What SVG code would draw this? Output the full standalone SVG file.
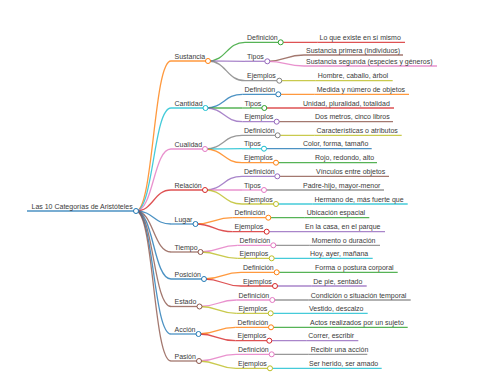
<svg xmlns="http://www.w3.org/2000/svg" width="480" height="384" viewBox="0 0 480 384">
<style>
.t{font-family:"Liberation Sans",Arial,sans-serif;font-size:7px;fill:#3a3a3a}
.l{fill:none;stroke-width:1.3;stroke-opacity:0.8}
.k{fill:#fff;stroke-width:1}
.c0{stroke:#1f77b4}.c1{stroke:#ff7f0e}.c2{stroke:#2ca02c}.c3{stroke:#d62728}.c4{stroke:#9467bd}
.c5{stroke:#8c564b}.c6{stroke:#e377c2}.c7{stroke:#7f7f7f}.c8{stroke:#bcbd22}.c9{stroke:#17becf}
</style>
<rect width="480" height="384" fill="#fff"/>
<g id="connectors">
<path class="l c1" d="M136 211C153.5 211 153.5 61 171 61"/>
<path class="l c9" d="M136 211C153.5 211 153.5 108 171 108"/>
<path class="l c6" d="M136 211C153.5 211 153.5 149 171 149"/>
<path class="l c3" d="M136 211C153.5 211 153.5 190 171 190"/>
<path class="l c0" d="M136 211C153.5 211 153.5 224 171 224"/>
<path class="l c5" d="M136 211C153.5 211 153.5 252 171 252"/>
<path class="l c0" d="M136 211C153.5 211 153.5 279 171 279"/>
<path class="l c5" d="M136 211C153.5 211 153.5 306.5 171 306.5"/>
<path class="l c0" d="M136 211C153.5 211 153.5 334 171 334"/>
<path class="l c5" d="M136 211C153.5 211 153.5 361 171 361"/>
<path class="l c2" d="M208 61C226.5 61 226.5 42.3 245 42.3"/>
<path class="l c4" d="M208 61C226.5 61 226.5 61.3 245 61.3"/>
<path class="l c7" d="M208 61C226.5 61 226.5 80.7 245 80.7"/>
<path class="l c0" d="M205.5 108C224 108 224 94.3 242.5 94.3"/>
<path class="l c2" d="M205.5 108C224 108 224 108 242.5 108"/>
<path class="l c4" d="M205.5 108C224 108 224 121.7 242.5 121.7"/>
<path class="l c7" d="M205 149C223.5 149 223.5 135.3 242 135.3"/>
<path class="l c9" d="M205 149C223.5 149 223.5 148.7 242 148.7"/>
<path class="l c1" d="M205 149C223.5 149 223.5 162.7 242 162.7"/>
<path class="l c4" d="M205 190C223.5 190 223.5 176.3 242 176.3"/>
<path class="l c6" d="M205 190C223.5 190 223.5 190 242 190"/>
<path class="l c8" d="M205 190C223.5 190 223.5 204 242 204"/>
<path class="l c1" d="M195.5 224C214 224 214 217.7 232.5 217.7"/>
<path class="l c3" d="M195.5 224C214 224 214 231.7 232.5 231.7"/>
<path class="l c6" d="M200.5 252C219 252 219 245.3 237.5 245.3"/>
<path class="l c8" d="M200.5 252C219 252 219 258.3 237.5 258.3"/>
<path class="l c1" d="M204 279C222.5 279 222.5 272.3 241 272.3"/>
<path class="l c3" d="M204 279C222.5 279 222.5 286 241 286"/>
<path class="l c6" d="M199.5 306.5C218 306.5 218 300 236.5 300"/>
<path class="l c8" d="M199.5 306.5C218 306.5 218 313.3 236.5 313.3"/>
<path class="l c1" d="M198.5 334C217 334 217 327.3 235.5 327.3"/>
<path class="l c3" d="M198.5 334C217 334 217 340.7 235.5 340.7"/>
<path class="l c6" d="M199 361C217.5 361 217.5 354.3 236 354.3"/>
<path class="l c8" d="M199 361C217.5 361 217.5 368.3 236 368.3"/>
<path class="l c3" d="M280.7 42.3H317.5"/>
<path class="l c5" d="M267.3 61.3C285.6 61.3 285.6 55 304 55"/>
<path class="l c6" d="M267.3 61.3C285.6 61.3 285.6 66 304 66"/>
<path class="l c8" d="M279.3 80.7H315.7"/>
<path class="l c1" d="M278.3 94.3H314.7"/>
<path class="l c3" d="M264.3 108H301"/>
<path class="l c5" d="M276.7 121.7H313"/>
<path class="l c8" d="M277.7 135.3H314.5"/>
<path class="l c0" d="M264 148.7H301"/>
<path class="l c2" d="M276 162.7H313"/>
<path class="l c5" d="M277.3 176.3H314"/>
<path class="l c7" d="M264 190H301"/>
<path class="l c9" d="M276 204H312.5"/>
<path class="l c2" d="M268.3 217.7H304.8"/>
<path class="l c4" d="M266.7 231.7H303"/>
<path class="l c7" d="M273.3 245.3H309.7"/>
<path class="l c9" d="M271.7 258.3H308"/>
<path class="l c2" d="M276.7 272.3H313"/>
<path class="l c4" d="M275 286H311.3"/>
<path class="l c7" d="M272.3 300H308.7"/>
<path class="l c9" d="M270.7 313.3H307"/>
<path class="l c2" d="M271 327.3H308"/>
<path class="l c4" d="M269.3 340.7H306.3"/>
<path class="l c7" d="M271.7 354.3H308.7"/>
<path class="l c9" d="M270 368.3H307"/>
</g>
<g id="root"><path class="l c0" d="M27 211H136"/><circle class="k c0" cx="136" cy="211" r="2.5"/><text class="t" x="31.5" y="208.5">Las 10 Categorías de Aristóteles</text></g>
<g id="sustancia"><path class="l c1" d="M171 61H208"/><circle class="k c1" cx="208" cy="61" r="2.5"/><text class="t" x="174.5" y="58.5">Sustancia</text></g>
<g id="sustancia-def"><path class="l c2" d="M245 42.3H280.7"/><circle class="k c2" cx="280.7" cy="42.3" r="2.5"/><text class="t" x="247" y="39.8">Definición</text></g>
<g id="sustancia-def-v"><path class="l c3" d="M317.5 42.3H405"/><text class="t" x="319.5" y="39.8">Lo que existe en sí mismo</text></g>
<g id="sustancia-tipos"><path class="l c4" d="M245 61.3H267.3"/><circle class="k c4" cx="267.3" cy="61.3" r="2.5"/><text class="t" x="247" y="58.8">Tipos</text></g>
<g id="sustancia-tipos-v1"><path class="l c5" d="M304 55H403"/><text class="t" x="306" y="52.5">Sustancia primera (individuos)</text></g>
<g id="sustancia-tipos-v2"><path class="l c6" d="M304 66H437"/><text class="t" x="306" y="63.5">Sustancia segunda (especies y géneros)</text></g>
<g id="sustancia-ej"><path class="l c7" d="M245 80.7H279.3"/><circle class="k c7" cx="279.3" cy="80.7" r="2.5"/><text class="t" x="247" y="78.2">Ejemplos</text></g>
<g id="sustancia-ej-v"><path class="l c8" d="M315.7 80.7H392.7"/><text class="t" x="317.7" y="78.2">Hombre, caballo, árbol</text></g>
<g id="cantidad"><path class="l c9" d="M171 108H205.5"/><circle class="k c9" cx="205.5" cy="108" r="2.5"/><text class="t" x="174.5" y="105.5">Cantidad</text></g>
<g id="cantidad-def"><path class="l c0" d="M242.5 94.3H278.3"/><circle class="k c0" cx="278.3" cy="94.3" r="2.5"/><text class="t" x="244.5" y="91.8">Definición</text></g>
<g id="cantidad-def-v"><path class="l c1" d="M314.7 94.3H409"/><text class="t" x="316.7" y="91.8">Medida y número de objetos</text></g>
<g id="cantidad-tipos"><path class="l c2" d="M242.5 108H264.3"/><circle class="k c2" cx="264.3" cy="108" r="2.5"/><text class="t" x="244.5" y="105.5">Tipos</text></g>
<g id="cantidad-tipos-v"><path class="l c3" d="M301 108H394"/><text class="t" x="303" y="105.5">Unidad, pluralidad, totalidad</text></g>
<g id="cantidad-ej"><path class="l c4" d="M242.5 121.7H276.7"/><circle class="k c4" cx="276.7" cy="121.7" r="2.5"/><text class="t" x="244.5" y="119.2">Ejemplos</text></g>
<g id="cantidad-ej-v"><path class="l c5" d="M313 121.7H393"/><text class="t" x="315" y="119.2">Dos metros, cinco libros</text></g>
<g id="cualidad"><path class="l c6" d="M171 149H205"/><circle class="k c6" cx="205" cy="149" r="2.5"/><text class="t" x="174.5" y="146.5">Cualidad</text></g>
<g id="cualidad-def"><path class="l c7" d="M242 135.3H277.7"/><circle class="k c7" cx="277.7" cy="135.3" r="2.5"/><text class="t" x="244" y="132.8">Definición</text></g>
<g id="cualidad-def-v"><path class="l c8" d="M314.5 135.3H401.7"/><text class="t" x="316.5" y="132.8">Características o atributos</text></g>
<g id="cualidad-tipos"><path class="l c9" d="M242 148.7H264"/><circle class="k c9" cx="264" cy="148.7" r="2.5"/><text class="t" x="244" y="146.2">Tipos</text></g>
<g id="cualidad-tipos-v"><path class="l c0" d="M301 148.7H371.7"/><text class="t" x="303" y="146.2">Color, forma, tamaño</text></g>
<g id="cualidad-ej"><path class="l c1" d="M242 162.7H276"/><circle class="k c1" cx="276" cy="162.7" r="2.5"/><text class="t" x="244" y="160.2">Ejemplos</text></g>
<g id="cualidad-ej-v"><path class="l c2" d="M313 162.7H377"/><text class="t" x="315" y="160.2">Rojo, redondo, alto</text></g>
<g id="relacion"><path class="l c3" d="M171 190H205"/><circle class="k c3" cx="205" cy="190" r="2.5"/><text class="t" x="174.5" y="187.5">Relación</text></g>
<g id="relacion-def"><path class="l c4" d="M242 176.3H277.3"/><circle class="k c4" cx="277.3" cy="176.3" r="2.5"/><text class="t" x="244" y="173.8">Definición</text></g>
<g id="relacion-def-v"><path class="l c5" d="M314 176.3H389"/><text class="t" x="316" y="173.8">Vínculos entre objetos</text></g>
<g id="relacion-tipos"><path class="l c6" d="M242 190H264"/><circle class="k c6" cx="264" cy="190" r="2.5"/><text class="t" x="244" y="187.5">Tipos</text></g>
<g id="relacion-tipos-v"><path class="l c7" d="M301 190H384"/><text class="t" x="303" y="187.5">Padre-hijo, mayor-menor</text></g>
<g id="relacion-ej"><path class="l c8" d="M242 204H276"/><circle class="k c8" cx="276" cy="204" r="2.5"/><text class="t" x="244" y="201.5">Ejemplos</text></g>
<g id="relacion-ej-v"><path class="l c9" d="M312.5 204H407.7"/><text class="t" x="314.5" y="201.5">Hermano de, más fuerte que</text></g>
<g id="lugar"><path class="l c0" d="M171 224H195.5"/><circle class="k c0" cx="195.5" cy="224" r="2.5"/><text class="t" x="174.5" y="221.5">Lugar</text></g>
<g id="lugar-def"><path class="l c1" d="M232.5 217.7H268.3"/><circle class="k c1" cx="268.3" cy="217.7" r="2.5"/><text class="t" x="234.5" y="215.2">Definición</text></g>
<g id="lugar-def-v"><path class="l c2" d="M304.8 217.7H369.3"/><text class="t" x="306.8" y="215.2">Ubicación espacial</text></g>
<g id="lugar-ej"><path class="l c3" d="M232.5 231.7H266.7"/><circle class="k c3" cx="266.7" cy="231.7" r="2.5"/><text class="t" x="234.5" y="229.2">Ejemplos</text></g>
<g id="lugar-ej-v"><path class="l c4" d="M303 231.7H385"/><text class="t" x="305" y="229.2">En la casa, en el parque</text></g>
<g id="tiempo"><path class="l c5" d="M171 252H200.5"/><circle class="k c5" cx="200.5" cy="252" r="2.5"/><text class="t" x="174.5" y="249.5">Tiempo</text></g>
<g id="tiempo-def"><path class="l c6" d="M237.5 245.3H273.3"/><circle class="k c6" cx="273.3" cy="245.3" r="2.5"/><text class="t" x="239.5" y="242.8">Definición</text></g>
<g id="tiempo-def-v"><path class="l c7" d="M309.7 245.3H380"/><text class="t" x="311.7" y="242.8">Momento o duración</text></g>
<g id="tiempo-ej"><path class="l c8" d="M237.5 258.3H271.7"/><circle class="k c8" cx="271.7" cy="258.3" r="2.5"/><text class="t" x="239.5" y="255.8">Ejemplos</text></g>
<g id="tiempo-ej-v"><path class="l c9" d="M308 258.3H372.7"/><text class="t" x="310" y="255.8">Hoy, ayer, mañana</text></g>
<g id="posicion"><path class="l c0" d="M171 279H204"/><circle class="k c0" cx="204" cy="279" r="2.5"/><text class="t" x="174.5" y="276.5">Posición</text></g>
<g id="posicion-def"><path class="l c1" d="M241 272.3H276.7"/><circle class="k c1" cx="276.7" cy="272.3" r="2.5"/><text class="t" x="243" y="269.8">Definición</text></g>
<g id="posicion-def-v"><path class="l c2" d="M313 272.3H397.7"/><text class="t" x="315" y="269.8">Forma o postura corporal</text></g>
<g id="posicion-ej"><path class="l c3" d="M241 286H275"/><circle class="k c3" cx="275" cy="286" r="2.5"/><text class="t" x="243" y="283.5">Ejemplos</text></g>
<g id="posicion-ej-v"><path class="l c4" d="M311.3 286H366.7"/><text class="t" x="313.3" y="283.5">De pie, sentado</text></g>
<g id="estado"><path class="l c5" d="M171 306.5H199.5"/><circle class="k c5" cx="199.5" cy="306.5" r="2.5"/><text class="t" x="174.5" y="304">Estado</text></g>
<g id="estado-def"><path class="l c6" d="M236.5 300H272.3"/><circle class="k c6" cx="272.3" cy="300" r="2.5"/><text class="t" x="238.5" y="297.5">Definición</text></g>
<g id="estado-def-v"><path class="l c7" d="M308.7 300H410.7"/><text class="t" x="310.7" y="297.5">Condición o situación temporal</text></g>
<g id="estado-ej"><path class="l c8" d="M236.5 313.3H270.7"/><circle class="k c8" cx="270.7" cy="313.3" r="2.5"/><text class="t" x="238.5" y="310.8">Ejemplos</text></g>
<g id="estado-ej-v"><path class="l c9" d="M307 313.3H367.7"/><text class="t" x="309" y="310.8">Vestido, descalzo</text></g>
<g id="accion"><path class="l c0" d="M171 334H198.5"/><circle class="k c0" cx="198.5" cy="334" r="2.5"/><text class="t" x="174.5" y="331.5">Acción</text></g>
<g id="accion-def"><path class="l c1" d="M235.5 327.3H271"/><circle class="k c1" cx="271" cy="327.3" r="2.5"/><text class="t" x="237.5" y="324.8">Definición</text></g>
<g id="accion-def-v"><path class="l c2" d="M308 327.3H407.7"/><text class="t" x="310" y="324.8">Actos realizados por un sujeto</text></g>
<g id="accion-ej"><path class="l c3" d="M235.5 340.7H269.3"/><circle class="k c3" cx="269.3" cy="340.7" r="2.5"/><text class="t" x="237.5" y="338.2">Ejemplos</text></g>
<g id="accion-ej-v"><path class="l c4" d="M306.3 340.7H358.3"/><text class="t" x="308.3" y="338.2">Correr, escribir</text></g>
<g id="pasion"><path class="l c5" d="M171 361H199"/><circle class="k c5" cx="199" cy="361" r="2.5"/><text class="t" x="174.5" y="358.5">Pasión</text></g>
<g id="pasion-def"><path class="l c6" d="M236 354.3H271.7"/><circle class="k c6" cx="271.7" cy="354.3" r="2.5"/><text class="t" x="238" y="351.8">Definición</text></g>
<g id="pasion-def-v"><path class="l c7" d="M308.7 354.3H367.3"/><text class="t" x="310.7" y="351.8">Recibir una acción</text></g>
<g id="pasion-ej"><path class="l c8" d="M236 368.3H270"/><circle class="k c8" cx="270" cy="368.3" r="2.5"/><text class="t" x="238" y="365.8">Ejemplos</text></g>
<g id="pasion-ej-v"><path class="l c9" d="M307 368.3H381.7"/><text class="t" x="309" y="365.8">Ser herido, ser amado</text></g>
</svg>
